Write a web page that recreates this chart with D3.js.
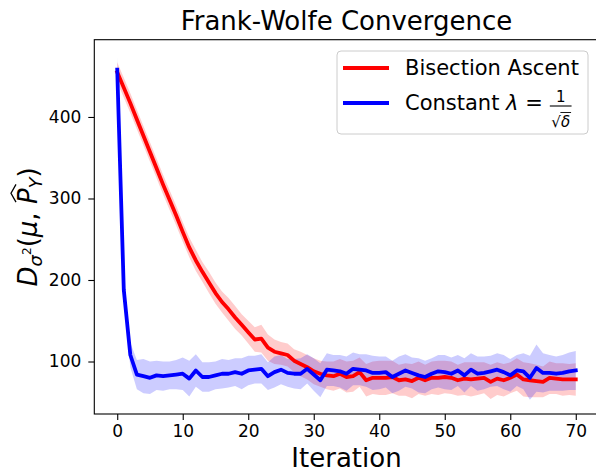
<!DOCTYPE html>
<html><head><meta charset="utf-8">
<script src="https://cdn.jsdelivr.net/npm/d3@7"></script>
<style>body{margin:0;background:#fff;overflow:hidden} text{font-family:"DejaVu Sans",sans-serif}</style>
</head><body><svg id="c" width="596" height="472"></svg>
<script>
const iterations = d3.range(0, 71);
const bisectionMean = [455,436,417,397,377,357,337,317,298,279,259,240,224,210,197,184,173,164,154,145,
  136,127,128,117,112,110,108,101,97,93,88,85,83,82,85,81,82,87,77,80,
  80,80,81,77,78,76,80,77,80,80,81,80,77,79,78,79,80,75,79,77,
  80,84,78,77,76,75,80,79,78,78,78];
const bisectionStd = [12,12,12,12,12,12,12,12,12,12,12,12,13,12,13,13,13,14,14,13,
  14,15,17,16,15,14,14,14,15,15,16,16,17,18,18,19,19,18,20,20,
  21,21,20,19,20,21,20,19,20,21,20,20,19,20,21,20,19,21,20,20,
  19,20,21,21,20,19,20,19,20,19,20];
const constantMean = [458,188,108,84,82,80,83,82,83,84,85,79,89,81,81,83,85,85,87,85,
  89,90,91,82,87,90,86,85,85,91,84,77,90,89,88,85,91,90,89,86,
  86,87,81,85,89,86,83,81,85,88,87,85,89,83,90,85,86,88,90,87,
  83,89,88,80,92,86,86,85,86,88,89];
const constantStd = [16,15,15,18,21,20,18,18,17,18,20,22,20,18,18,17,18,17,17,19,
  18,17,18,17,19,18,17,18,19,18,20,21,20,19,20,21,20,19,20,21,
  20,19,20,21,20,19,21,20,19,20,21,20,19,21,20,21,20,19,20,21,
  20,19,22,27,29,24,22,21,22,23,24];
const xTicks = [0,10,20,30,40,50,60,70];
const yTicks = [100,200,300,400];
const seriesNames = ["Bisection Ascent", "Constant"];
const seriesColors = ["#ff0000", "#0000ff"];

const svg = d3.select("#c");
const L = 94.3, R = 598.7, T = 39.7, B = 414;
const x = d3.scaleLinear().domain([-3.5, 73.5]).range([L, R]);
const y = d3.scaleLinear().domain([35.6, 494.8]).range([B, T]);

svg.append("defs").append("clipPath").attr("id","clip")
  .append("rect").attr("x",L).attr("y",T).attr("width",R-L).attr("height",B-T);

const plot = svg.append("g").attr("clip-path","url(#clip)");
const series = [
  {mean: bisectionMean, std: bisectionStd, color: seriesColors[0]},
  {mean: constantMean, std: constantStd, color: seriesColors[1]}
];
series.forEach(s => {
  const area = d3.area().x(i => x(iterations[i])).y0(i => y(s.mean[i] - s.std[i])).y1(i => y(s.mean[i] + s.std[i]));
  plot.append("path").attr("d", area(d3.range(iterations.length))).attr("fill", s.color).attr("fill-opacity", 0.2);
});
series.forEach(s => {
  const line = d3.line().x(i => x(iterations[i])).y(i => y(s.mean[i]));
  plot.append("path").attr("d", line(d3.range(iterations.length))).attr("fill","none")
    .attr("stroke", s.color).attr("stroke-width", 3.8).attr("stroke-linejoin","round").attr("stroke-linecap","square");
});

// axes
const xa = svg.append("g").attr("transform",`translate(0,${B})`)
  .call(d3.axisBottom(x).tickValues(xTicks).tickSize(6).tickPadding(5).tickSizeOuter(0));
const ya = svg.append("g").attr("transform",`translate(${L},0)`)
  .call(d3.axisLeft(y).tickValues(yTicks).tickSize(6).tickPadding(7).tickSizeOuter(0));
[xa, ya].forEach(a => {
  a.select(".domain").remove();
  a.selectAll("line").attr("stroke","#000").attr("stroke-width",1.1);
  a.selectAll("text").attr("font-size",17).attr("fill","#000").style("font-family","DejaVu Sans");
});
// spines
svg.append("rect").attr("x",L).attr("y",T).attr("width",R-L).attr("height",B-T)
  .attr("fill","none").attr("stroke","#000").attr("stroke-width",1.1);

// title
svg.append("text").attr("x",(L+R)/2).attr("y",30).attr("text-anchor","middle")
  .attr("font-size",26).text("Frank-Wolfe Convergence");
// x label
svg.append("text").attr("x",(L+R)/2).attr("y",467).attr("text-anchor","middle")
  .attr("font-size",26).text("Iteration");
// y label
const yg = svg.append("g").attr("transform",`translate(37,${(T+B)/2}) rotate(-90)`);
const yl = yg.append("text").attr("text-anchor","middle").attr("font-size",26);
yl.append("tspan").attr("font-style","italic").text("D");
yl.append("tspan").attr("font-style","italic").attr("font-size",18).attr("dy",5).text("σ");
yl.append("tspan").attr("font-size",12).attr("dy",-11).text("2");
yl.append("tspan").attr("font-size",26).attr("dy",6).text("(");
yl.append("tspan").attr("font-style","italic").text("μ");
yl.append("tspan").text(", ");
yl.append("tspan").attr("font-style","italic").text("P");
yl.append("tspan").attr("font-style","italic").attr("font-size",18).attr("dy",5).text("Y");
yl.append("tspan").attr("font-size",26).attr("dy",-5).text(")");
{
  const n = yl.node();
  const s = n.getStartPositionOfChar(7), e = n.getEndPositionOfChar(7);
  const x0 = s.x + 2, x1 = e.x + 4, xm = (x0 + x1) / 2;
  yg.append("path").attr("d",`M${x0},-21 L${xm},-26 L${x1},-21`).attr("fill","none")
    .attr("stroke","#000").attr("stroke-width",1.3);
}

// legend
const lg = svg.append("g");
lg.append("rect").attr("x",337).attr("y",51).attr("width",251).attr("height",83).attr("rx",4)
  .attr("fill","#fff").attr("fill-opacity",0.8).attr("stroke","#cccccc").attr("stroke-width",1);
lg.append("line").attr("x1",343).attr("x2",389).attr("y1",68).attr("y2",68).attr("stroke",seriesColors[0]).attr("stroke-width",3.8);
lg.append("line").attr("x1",343).attr("x2",389).attr("y1",103).attr("y2",103).attr("stroke",seriesColors[1]).attr("stroke-width",3.8);
lg.append("text").attr("x",405).attr("y",75).attr("font-size",21).text(seriesNames[0]);
const t2 = lg.append("text").attr("x",405).attr("y",110).attr("font-size",21);
t2.append("tspan").text(seriesNames[1] + " ");
t2.append("tspan").attr("font-style","italic").text("λ");
t2.append("tspan").text(" =");
{
  const end = 405 + t2.node().getComputedTextLength();
  const den = lg.append("text").attr("y",127).attr("font-size",15).attr("text-anchor","middle");
  den.append("tspan").text("√");
  den.append("tspan").attr("font-style","italic").text("δ");
  const dw = den.node().getComputedTextLength();
  const fw = dw + 3;
  const cx = end + 7 + fw / 2;
  den.attr("x", cx);
  lg.append("text").attr("x",cx).attr("y",102).attr("font-size",15).attr("text-anchor","middle").text("1");
  lg.append("line").attr("x1",cx - fw/2).attr("x2",cx + fw/2).attr("y1",106).attr("y2",106).attr("stroke","#000").attr("stroke-width",1.1);
  const dn = den.node();
  const sq = dn.getEndPositionOfChar(0);
  lg.append("line").attr("x1",sq.x - 0.5).attr("x2",cx + dw/2 + 1).attr("y1",112.5).attr("y2",112.5).attr("stroke","#000").attr("stroke-width",0.9);
}
</script></body></html>
